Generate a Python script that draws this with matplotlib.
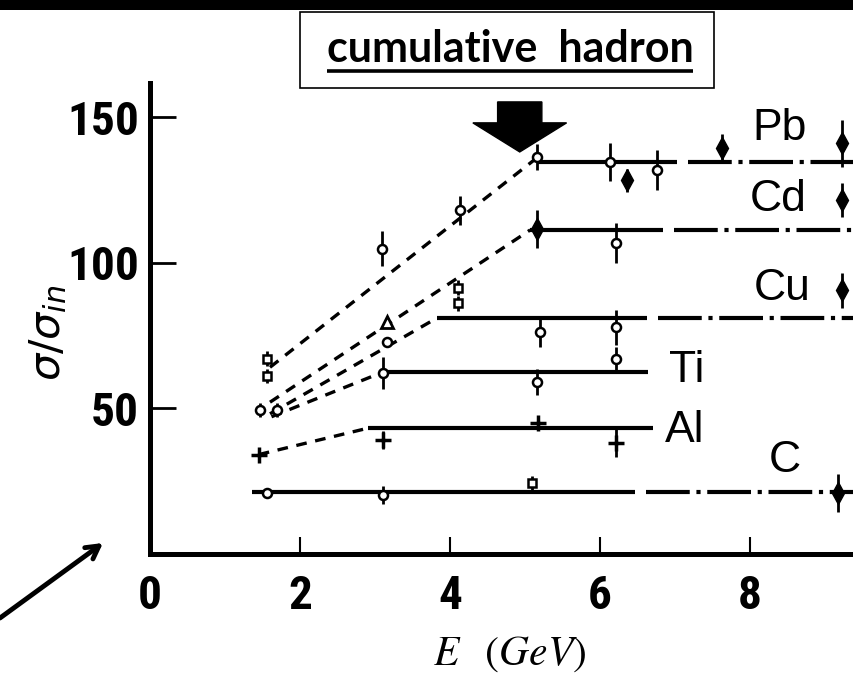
#!/usr/bin/env python3

"""
Cumulative hadron production: sigma/sigma_in versus beam energy for
several nuclei (C, Al, Ti, Cu, Cd, Pb).
"""

import matplotlib
matplotlib.use("Agg")
import matplotlib.pyplot as plt
from matplotlib import font_manager
from matplotlib.lines import Line2D
from matplotlib.patches import Polygon, Rectangle

W, H = 854, 673
DPI = 100

XMAX = 9.387
YMAX = 161.7

# plateau levels and where the solid plateau starts / stops (GeV)
ELEMENTS = ["Pb", "Cd", "Cu", "Ti", "Al", "C"]
PLATEAU = [134.6, 111.2, 81.0, 62.4, 43.1, 21.1]
SOLID_FROM = [5.16, 5.07, 3.83, 3.11, 2.91, 1.36]
SOLID_TO = [7.03, 6.84, 6.63, 6.64, 6.71, 6.47]
DASHDOT = [True, True, True, False, False, True]

# dashed low energy extrapolations: (E0, y0) -> (E1, y1)
EXTRA_E0 = [1.60, 1.60, 1.60, 1.62, 1.45]
EXTRA_Y0 = [64.0, 52.0, 48.0, 47.0, 34.0]
EXTRA_E1 = [5.16, 5.07, 3.83, 3.11, 2.91]
EXTRA_Y1 = [136.0, 111.2, 81.0, 62.4, 43.1]

# open circles with error bars
OPEN_E = [3.09, 4.13, 5.16, 6.13, 6.76, 6.22, 5.20, 6.22, 3.11, 5.16, 6.22,
          1.56, 3.11, 1.47, 1.69, 3.16]
OPEN_Y = [104.8, 118.0, 136.4, 134.6, 131.8, 106.7, 76.1, 77.8, 62.0, 58.9,
          67.0, 20.8, 20.1, 49.3, 49.3, 72.6]
OPEN_ERR = [6.0, 5.0, 4.5, 6.5, 7.0, 7.0, 5.0, 6.0, 5.5, 4.5, 4.0,
            0.0, 3.0, 2.5, 2.5, 0.0]

# open squares
SQ_E = [1.56, 1.56, 4.11, 4.11, 5.10]
SQ_Y = [67.0, 61.0, 86.0, 91.4, 24.2]

# open triangles
TRI_E = [3.16]
TRI_Y = [79.5]

# crosses (Al)
CROSS_E = [1.45, 3.11, 5.17, 6.22]
CROSS_Y = [34.0, 39.0, 44.8, 38.0]
CROSS_ERR = [0.0, 3.0, 2.0, 5.0]

# filled diamonds, second data set
FILL_E = [6.36, 7.63, 9.23, 5.16, 9.23, 9.23, 9.17]
FILL_Y = [128.3, 139.3, 141.0, 111.5, 121.5, 90.5, 20.8]
FILL_ERR = [4.0, 5.0, 8.0, 6.5, 6.0, 6.0, 6.5]

# element label positions
LABEL_E = [8.40, 8.37, 8.43, 7.15, 7.13, 8.47]
LABEL_Y = [146.0, 121.5, 91.2, 63.0, 42.4, 31.8]

XTICKS = [0, 2, 4, 6, 8]
YTICKS = [50, 100, 150]

TIP_E, TIP_Y = 4.93, 138.0


def px(x, y):
    """figure pixels (top-left origin) -> figure fraction"""
    return x / W, 1 - y / H


def narrow_font():
    """pick a condensed sans if one is installed"""
    fonts = font_manager.fontManager.ttflist
    names = {f.name for f in fonts}
    for name in ("Liberation Sans Narrow", "DejaVu Sans Condensed",
                 "Roboto Condensed", "Open Sans Condensed"):
        if name in names:
            return dict(family=name)
    for f in fonts:
        if f.name == "DejaVu Sans" and f.stretch == "condensed":
            return dict(family="DejaVu Sans", stretch="condensed")
    return dict(family="Liberation Sans")


NARROW = narrow_font()

fig = plt.figure(figsize=(W / DPI, H / DPI), dpi=DPI, facecolor="white")

left, bottom = px(150, 553.5)
_, top = px(0, 83)
ax = fig.add_axes([left, bottom, 1 - left, top - bottom])
ax.set_xlim(0, XMAX)
ax.set_ylim(0, YMAX)
ax.patch.set_alpha(0)

for s in ("top", "right"):
    ax.spines[s].set_visible(False)
for s in ("left", "bottom"):
    ax.spines[s].set_linewidth(3.6)
    ax.spines[s].set_capstyle("projecting")

digits = dict(NARROW, size=34, weight="bold")
ax.set_xticks(XTICKS)
ax.set_xticklabels([str(t) for t in XTICKS], fontdict=digits)
ax.set_yticks(YTICKS)
ax.set_yticklabels([str(t) for t in YTICKS], fontdict=digits)
ax.tick_params(axis="x", direction="in", length=12, width=1.5, pad=15)
ax.tick_params(axis="y", direction="in", length=19, width=2.0, pad=8)

# plateaus: solid part, then dash-dot continuation
for lvl, e0, e1, dd in zip(PLATEAU, SOLID_FROM, SOLID_TO, DASHDOT):
    ax.plot([e0, e1], [lvl, lvl], color="black", lw=3.0, solid_capstyle="butt")
    if dd:
        ax.plot([e1 + 0.15, XMAX], [lvl, lvl], color="black", lw=3.0,
                dashes=(10.5, 1.6, 1.0, 1.6))

# dashed extrapolations to low energy
for e0, y0, e1, y1 in zip(EXTRA_E0, EXTRA_Y0, EXTRA_E1, EXTRA_Y1):
    ax.plot([e0, e1], [y0, y1], color="black", lw=2.4, dashes=(3.2, 2.6))

ebar = dict(ecolor="black", elinewidth=2.0, capsize=0, ls="none")
ax.errorbar(OPEN_E, OPEN_Y, yerr=OPEN_ERR, fmt="o", ms=6.5, mfc="white",
            mec="black", mew=1.8, **ebar)
ax.errorbar(SQ_E, SQ_Y, yerr=2.5, fmt="s", ms=6.0, mfc="white",
            mec="black", mew=1.8, **ebar)
ax.plot(TRI_E, TRI_Y, "^", ms=8, mfc="white", mec="black", mew=2.0, ls="none")
ax.errorbar(CROSS_E, CROSS_Y, yerr=CROSS_ERR, fmt="+", ms=12, mew=2.5,
            color="black", **ebar)
ax.errorbar(FILL_E, FILL_Y, yerr=FILL_ERR, fmt="d", ms=11, mfc="black",
            mec="black", clip_on=False, **ebar)

for name, e, y in zip(ELEMENTS, LABEL_E, LABEL_Y):
    ax.text(e, y, name, ha="center", va="center", fontsize=32,
            family=["Liberation Sans", "DejaVu Sans"])

# block arrow pointing at the onset of the Pb plateau
hb = 10.0    # head height
bh = 7.2     # body height
hw = 0.625   # head half width (GeV)
bw = 0.295   # body half width (GeV)
arrow = Polygon([(TIP_E, TIP_Y), (TIP_E + hw, TIP_Y + hb),
                 (TIP_E + bw, TIP_Y + hb), (TIP_E + bw, TIP_Y + hb + bh),
                 (TIP_E - bw, TIP_Y + hb + bh), (TIP_E - bw, TIP_Y + hb),
                 (TIP_E - hw, TIP_Y + hb)],
                closed=True, fc="black", ec="black", clip_on=False, zorder=5)
ax.add_patch(arrow)

fig.text(*px(510, 653), r"$E$  $(GeV)$", ha="center", va="center",
         fontsize=30, math_fontfamily="stix")
fig.text(*px(48, 333), r"$\sigma/\sigma_{in}$", rotation=90, ha="center",
         va="center", fontsize=31, math_fontfamily="dejavusans")

# black strip along the top edge
fig.add_artist(Rectangle(px(0, 10), 1, 10 / H, transform=fig.transFigure,
                         fc="black", ec="none"))

# caption box
bx0, by0 = px(300, 88)
bx1, by1 = px(714, 12)
fig.add_artist(Rectangle((bx0, by0), bx1 - bx0, by1 - by0,
                         transform=fig.transFigure, fc="white", ec="black",
                         lw=1.2))
cap = fig.text(*px(510, 49), "cumulative  hadron", ha="center", va="center",
               fontsize=31, fontweight="bold",
               family=["Lato", "DejaVu Sans"])
fig.canvas.draw()
bb = cap.get_window_extent().transformed(fig.transFigure.inverted())
uy = px(0, 71)[1]
fig.add_artist(Line2D([bb.x0, bb.x1], [uy, uy], transform=fig.transFigure,
                      color="black", lw=2.6, solid_capstyle="butt"))

# pointer at the lower left
ax.annotate("", xy=px(103, 543), xycoords="figure fraction",
            xytext=px(0, 618), textcoords="figure fraction",
            arrowprops=dict(arrowstyle="->,head_length=0.9,head_width=0.5",
                            lw=3.5, color="black", shrinkA=0, shrinkB=0))

fig.savefig("out.png", dpi=DPI, facecolor="white")
